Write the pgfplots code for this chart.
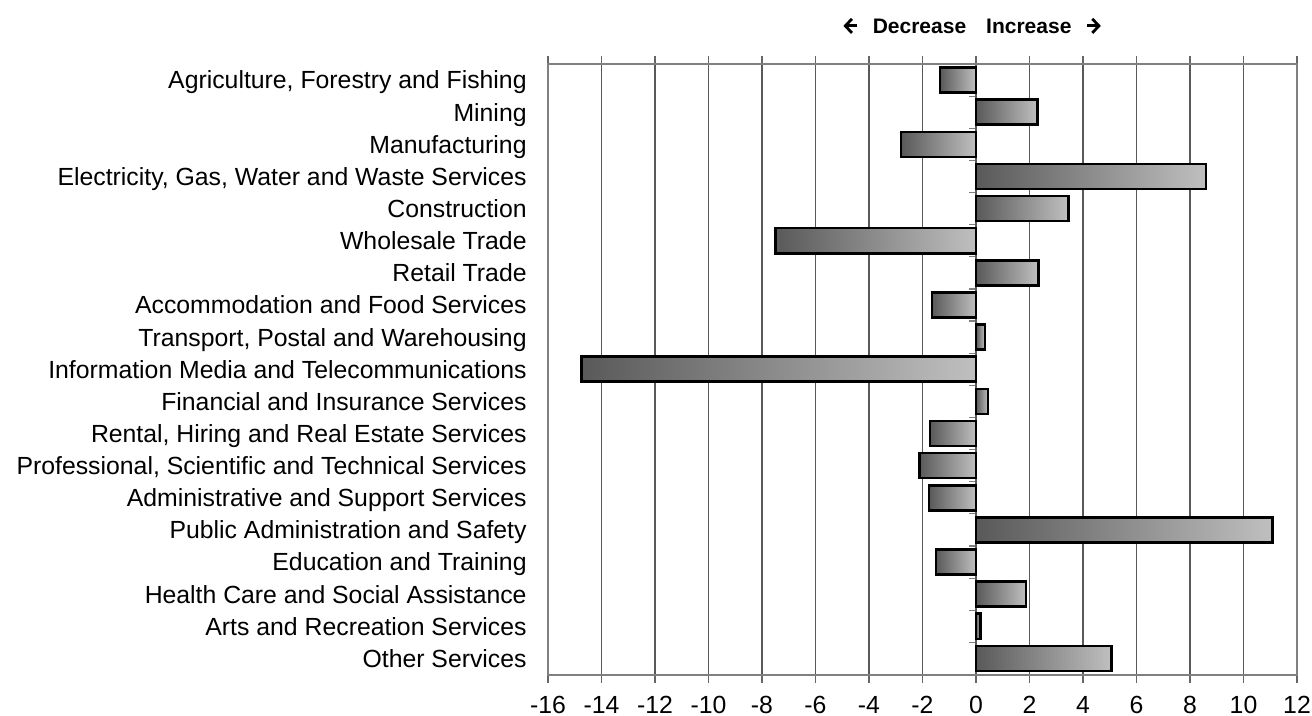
\documentclass[border=0pt]{standalone}
\usepackage{pgfplots}
\pgfplotsset{compat=1.18}
\usetikzlibrary{arrows.meta}
\usepackage{fontspec}
\setmainfont{Liberation Sans}
\begin{document}
\fontsize{12.4bp}{14bp}\selectfont
\begin{tikzpicture}
\path[use as bounding box] (0,0) rectangle (656bp,358bp);
\pgfplotsset{common/.style={at={(274bp,20.75bp)}, anchor=south west, scale only axis,
  width=374.5bp, height=305.25bp, xmin=-16, xmax=12, ymin=-0.5, ymax=18.5, y dir=reverse},
  mybar/.style={xbar, bar width=0.78, bar shift=0pt, draw=black, line width=1.3bp,
  left color=black!65, right color=black!25}}
% zero line with category ticks
\begin{axis}[common, axis x line=none, axis y line=middle,
  ytick={0.5,1.5,2.5,3.5,4.5,5.5,6.5,7.5,8.5,9.5,10.5,11.5,12.5,13.5,14.5,15.5,16.5,17.5},
  yticklabels={}, tick align=center, major tick length=3.5bp,
  y axis line style={draw=black!50, line width=0.5bp, -},
  ytick style={draw=black!50, line width=0.6bp, xshift=-1.75bp}]
\end{axis}
\begin{axis}[common,
  xtick={-16,-14,...,12}, ytick={0,...,18},
  yticklabels={{Agriculture, Forestry and Fishing},Mining,Manufacturing,
    {Electricity, Gas, Water and Waste Services},Construction,Wholesale Trade,Retail Trade,
    Accommodation and Food Services,{Transport, Postal and Warehousing},
    Information Media and Telecommunications,Financial and Insurance Services,
    {Rental, Hiring and Real Estate Services},{Professional, Scientific and Technical Services},
    Administrative and Support Services,Public Administration and Safety,
    Education and Training,Health Care and Social Assistance,Arts and Recreation Services,
    Other Services},
  xmajorgrids, grid style={draw=black!65, line width=0.55bp},
  axis line style={draw=black!50, line width=1bp},
  ytick style={draw=none},
  xtick style={draw=black!60, line width=0.6bp},
  tick align=outside, major tick length=4bp,
  tick label style={font=\fontsize{12.4bp}{14bp}\selectfont},
  /pgf/number format/assume math mode=true,
  xticklabel style={anchor=base, inner sep=0pt, yshift=-15.25bp},
  yticklabel style={anchor=base east, inner sep=0pt, xshift=-6.5bp, yshift=-4.44bp},
]
\addplot[mybar] coordinates {(-1.35,0)};
\addplot[mybar] coordinates {(2.3,1)};
\addplot[mybar] coordinates {(-2.8,2)};
\addplot[mybar] coordinates {(8.6,3)};
\addplot[mybar] coordinates {(3.45,4)};
\addplot[mybar] coordinates {(-7.5,5)};
\addplot[mybar] coordinates {(2.33,6)};
\addplot[mybar] coordinates {(-1.65,7)};
\addplot[mybar] coordinates {(0.33,8)};
\addplot[mybar] coordinates {(-14.75,9)};
\addplot[mybar] coordinates {(0.45,10)};
\addplot[mybar] coordinates {(-1.72,11)};
\addplot[mybar] coordinates {(-2.12,12)};
\addplot[mybar] coordinates {(-1.75,13)};
\addplot[mybar] coordinates {(11.08,14)};
\addplot[mybar] coordinates {(-1.5,15)};
\addplot[mybar] coordinates {(1.87,16)};
\addplot[mybar] coordinates {(0.17,17)};
\addplot[mybar] coordinates {(5.07,18)};
\end{axis}
\node[anchor=base east, inner sep=0pt, font=\fontsize{10.5bp}{12bp}\selectfont\bfseries]
  at (483.3bp,341.3bp) {\tikz[baseline=0pt]\draw[line width=1.4bp, {Straight Barb[length=3.3bp,width=7bp]}-] (0,3.75bp) -- (7bp,3.75bp);\hspace{7bp}Decrease};
\node[anchor=base west, inner sep=0pt, font=\fontsize{10.5bp}{12bp}\selectfont\bfseries]
  at (492.9bp,341.3bp) {Increase\hspace{7bp}\tikz[baseline=0pt]\draw[line width=1.4bp, -{Straight Barb[length=3.3bp,width=7bp]}] (0,3.75bp) -- (7bp,3.75bp);};
\end{tikzpicture}
\end{document}
